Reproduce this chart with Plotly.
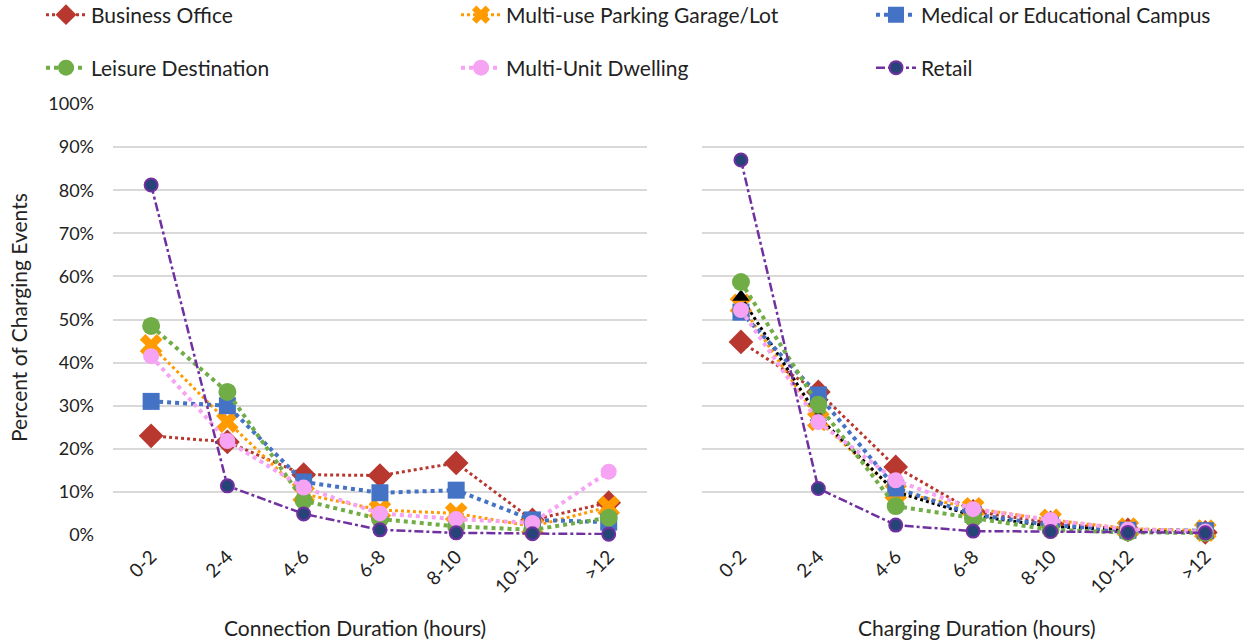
import plotly.graph_objects as go

# Duration buckets (hours)
categories = ["0-2", "2-4", "4-6", "6-8", "8-10", "10-12", ">12"]

# Share of charging events by connection duration
conn_business = [0.230, 0.216, 0.140, 0.138, 0.167, 0.035, 0.075]
conn_parking = [0.440, 0.263, 0.095, 0.058, 0.050, 0.020, 0.065]
conn_medical = [0.310, 0.300, 0.123, 0.098, 0.104, 0.035, 0.030]
conn_leisure = [0.485, 0.332, 0.080, 0.037, 0.020, 0.012, 0.040]
conn_dwelling = [0.415, 0.218, 0.110, 0.050, 0.037, 0.028, 0.147]
conn_retail = [0.812, 0.114, 0.049, 0.012, 0.005, 0.003, 0.002]

# Share of charging events by charging duration
chg_business = [0.448, 0.332, 0.158, 0.055, 0.028, 0.012, 0.006]
chg_parking = [0.534, 0.267, 0.100, 0.062, 0.035, 0.015, 0.010]
chg_overall = [0.552, 0.274, 0.100, 0.045, 0.020, 0.010, 0.005]
chg_medical = [0.517, 0.325, 0.109, 0.048, 0.023, 0.011, 0.010]
chg_leisure = [0.587, 0.302, 0.067, 0.039, 0.012, 0.006, 0.005]
chg_dwelling = [0.522, 0.262, 0.127, 0.060, 0.035, 0.013, 0.008]
chg_retail = [0.870, 0.108, 0.023, 0.009, 0.008, 0.006, 0.005]

y_ticks = [0, 0.1, 0.2, 0.3, 0.4, 0.5, 0.6, 0.7, 0.8, 0.9, 1.0]
y_tick_text = ["0%", "10%", "20%", "30%", "40%", "50%", "60%", "70%", "80%", "90%", "100%"]

FONT = "Lato, 'Open Sans', sans-serif"
TXT = "#222222"

# figure geometry (pixels)
W, H = 1244, 641
ML, MR, MT, MB = 113, 0, 104, 106
PW, PH = W - ML - MR, H - MT - MB


def px_x(x):
    return (x - ML) / PW


def px_y(y):
    return (H - MB - y) / PH


styles = {
    "Business Office": dict(color="#B8372E", symbol="diamond", size=19, dash="dot", lw=3,
                            lcolor="#B8372E", legend="legend", pos=(41, 15)),
    "Multi-use Parking Garage/Lot": dict(color="#FF9A00", symbol="x", size=20, dash="dot", lw=3,
                                         lcolor="#FF9A00", legend="legend2", pos=(456, 15)),
    "Medical or Educational Campus": dict(color="#4472C4", symbol="square", size=17, dash="dot", lw=4,
                                          lcolor="#4472C4", legend="legend3", pos=(871, 15)),
    "Leisure Destination": dict(color="#70AD47", symbol="circle", size=18, dash="dot", lw=4,
                                lcolor="#70AD47", legend="legend4", pos=(41, 68)),
    "Multi-Unit Dwelling": dict(color="#F5A3F2", symbol="circle", size=16, dash="dot", lw=4,
                                lcolor="#F5A3F2", legend="legend5", pos=(456, 68)),
    "Retail": dict(color="#264478", symbol="circle", size=13, dash="dashdot", lw=2.5,
                   lcolor="#7030A0", legend="legend6", pos=(871, 68)),
}

left = {
    "Business Office": conn_business,
    "Multi-use Parking Garage/Lot": conn_parking,
    "Medical or Educational Campus": conn_medical,
    "Leisure Destination": conn_leisure,
    "Multi-Unit Dwelling": conn_dwelling,
    "Retail": conn_retail,
}
right = {
    "Business Office": chg_business,
    "Multi-use Parking Garage/Lot": chg_parking,
    "Medical or Educational Campus": chg_medical,
    "Leisure Destination": chg_leisure,
    "Multi-Unit Dwelling": chg_dwelling,
    "Retail": chg_retail,
}

fig = go.Figure()


def add_series(name, values, xaxis, yaxis, show):
    s = styles[name]
    marker = dict(color=s["color"], symbol=s["symbol"], size=s["size"],
                  line=dict(width=0))
    if name == "Retail":
        marker["line"] = dict(color="#7030A0", width=2)
    fig.add_trace(go.Scatter(
        x=categories, y=values, name=name, mode="lines+markers",
        line=dict(color=s["lcolor"], width=s["lw"], dash=s["dash"]),
        marker=marker, xaxis=xaxis, yaxis=yaxis, showlegend=show,
        legend=s["legend"], cliponaxis=False,
    ))


for name, vals in left.items():
    add_series(name, vals, "x", "y", True)

names = list(right.keys())
for name in names[:2]:
    add_series(name, right[name], "x2", "y2", False)
# aggregate across all venues (charging duration only)
fig.add_trace(go.Scatter(
    x=categories, y=chg_overall, name="All", mode="lines+markers",
    line=dict(color="#000000", width=3, dash="dot"),
    marker=dict(color="#000000", symbol="triangle-up", size=15),
    xaxis="x2", yaxis="y2", showlegend=False, cliponaxis=False,
))
for name in names[2:]:
    add_series(name, right[name], "x2", "y2", False)

xa = dict(type="category", range=[-0.5, 6.5], showgrid=False, showline=False,
          zeroline=False, ticks="", tickangle=-45, ticklabelstandoff=6,
          tickfont=dict(family=FONT, size=19, color=TXT))
ya = dict(range=[0, 1.0], tickvals=y_ticks, ticktext=y_tick_text, showgrid=True,
          gridcolor="#D9D9D9", gridwidth=1.5, zeroline=False, showline=False,
          ticks="")

legends = {}
for name, s in styles.items():
    legends[s["legend"]] = dict(
        orientation="h", x=px_x(s["pos"][0]), xanchor="left",
        y=px_y(s["pos"][1]), yanchor="middle",
        font=dict(family=FONT, size=21, color=TXT), itemwidth=40,
        bgcolor="rgba(0,0,0,0)",
    )

fig.update_layout(
    width=W, height=H,
    margin=dict(l=ML, r=MR, t=MT, b=MB, autoexpand=False),
    paper_bgcolor="white", plot_bgcolor="white",
    font=dict(family=FONT, color=TXT),
    xaxis=dict(xa, domain=[0, 0.472], anchor="y"),
    xaxis2=dict(xa, domain=[0.521, 1.0], anchor="y2"),
    yaxis=dict(ya, anchor="x", ticklabelstandoff=18,
               tickfont=dict(family=FONT, size=18, color=TXT)),
    yaxis2=dict(ya, anchor="x2", showticklabels=False),
    annotations=[
        dict(text="Percent of Charging Events", x=px_x(18), y=px_y(318),
             xref="paper", yref="paper", xanchor="center", yanchor="middle",
             textangle=-90, showarrow=False,
             font=dict(family=FONT, size=21, color=TXT)),
        dict(text="Connection Duration (hours)", x=px_x(355), y=px_y(627),
             xref="paper", yref="paper", xanchor="center", yanchor="middle",
             showarrow=False, font=dict(family=FONT, size=21, color=TXT)),
        dict(text="Charging Duration (hours)", x=px_x(977), y=px_y(627),
             xref="paper", yref="paper", xanchor="center", yanchor="middle",
             showarrow=False, font=dict(family=FONT, size=21, color=TXT)),
    ],
    **legends,
)

fig.write_html("out.html")
